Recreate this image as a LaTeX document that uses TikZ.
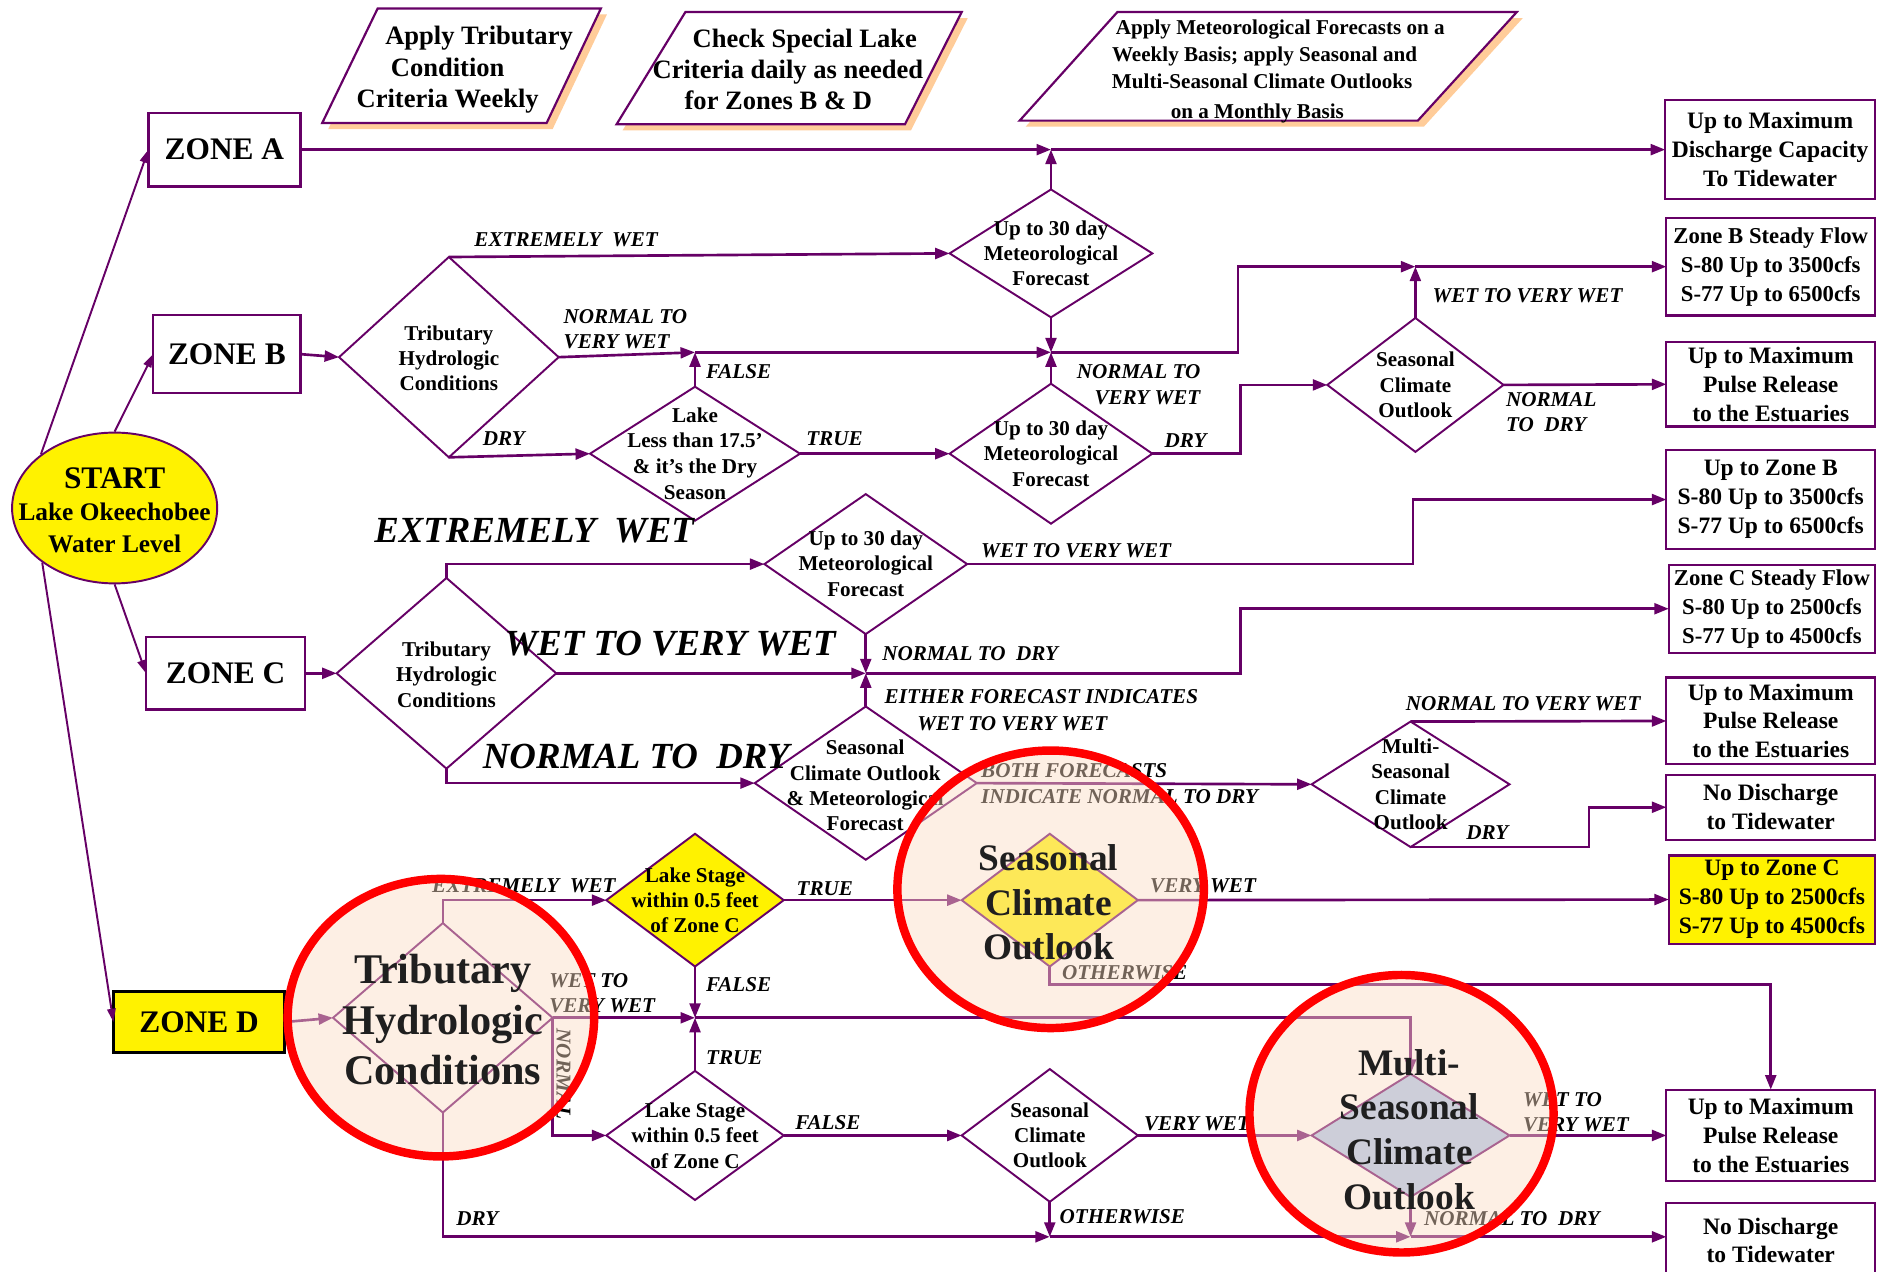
\documentclass[tikz,border=0pt]{standalone}
\usepackage{fontspec}
\setmainfont{Liberation Serif}
\usetikzlibrary{shapes.geometric,arrows.meta}
\definecolor{pur}{HTML}{660066}
\definecolor{shad}{HTML}{FFCC99}
\definecolor{peach}{HTML}{FCDCC4}
\definecolor{lblue}{HTML}{A8C4EC}
\begin{document}
\begin{tikzpicture}[x=1pt,y=-1pt,
 conn/.style={draw=pur, line width=2.2pt, -{Triangle[length=12pt,width=9pt]}},
 thinarr/.style={draw=pur, line width=1.6pt, -{Triangle[length=11pt,width=7pt]}},
 dia/.style={diamond, draw=pur, line width=1.6pt, inner sep=0pt, outer sep=0pt, fill=white},
 box/.style={rectangle, draw=pur, line width=1.8pt, fill=white, align=center, outer sep=0pt,
   font=\fontsize{19.5}{24}\selectfont\bfseries, inner sep=0pt},
 zone/.style={rectangle, draw=pur, line width=1.8pt, fill=white, outer sep=0pt,
   font=\fontsize{26}{30}\selectfont\bfseries},
 dtext/.style={align=center, font=\fontsize{17.5}{21}\selectfont\bfseries, inner sep=0pt},
 lab/.style={font=\fontsize{17.5}{21}\selectfont\bfseries\itshape, inner sep=0pt, anchor=base west},
 labr/.style={font=\fontsize{17.5}{21}\selectfont\bfseries\itshape, inner sep=0pt, anchor=base east},
 biglab/.style={font=\fontsize{30.5}{34}\selectfont\bfseries\itshape, inner sep=0pt, anchor=base west},
 ptext/.style={font=\fontsize{22}{26}\selectfont\bfseries, inner sep=0pt, anchor=base},
 ptext2/.style={font=\fontsize{17.5}{21}\selectfont\bfseries, inner sep=0pt, anchor=base},
 bigt/.style={align=center, inner sep=0pt, text=black!88, font=\fontsize{35}{42}\selectfont\bfseries},
 bigs/.style={align=center, inner sep=0pt, text=black!88, font=\fontsize{31}{37}\selectfont\bfseries},
 plg/.style={draw=pur, line width=1.8pt, fill=white},
 shd/.style={fill=shad, shift={(5,5)}}
]
\useasboundingbox (0,0) rectangle (1568,1054);
\clip (0,0) rectangle (1568,1054);
\fill[white] (0,0) rectangle (1568,1054);

% ---------- top parallelograms ----------
\fill[shd] (313,7) -- (498,7) -- (453,102) -- (267,102) -- cycle;
\draw[plg] (313,7) -- (498,7) -- (453,102) -- (267,102) -- cycle;
\node[ptext] (p1a) at (397,37) {Apply Tributary};
\node[ptext] (p1b) at (371,63) {Condition};
\node[ptext] (p1c) at (371,89) {Criteria Weekly};

\fill[shd] (568,10) -- (797,10) -- (750,103) -- (511,103) -- cycle;
\draw[plg] (568,10) -- (797,10) -- (750,103) -- (511,103) -- cycle;
\node[ptext] (p2a) at (667,39) {Check Special Lake};
\node[ptext] (p2b) at (653,65) {Criteria daily as needed};
\node[ptext] (p2c) at (645,91) {for Zones B \& D};

\fill[shd] (926,10) -- (1257,10) -- (1175,100) -- (845,100) -- cycle;
\draw[plg] (926,10) -- (1257,10) -- (1175,100) -- (845,100) -- cycle;
\node[ptext2] (p3a) at (1061,29) {Apply Meteorological Forecasts on a};
\node[ptext2] (p3b) at (1048,51) {Weekly Basis; apply Seasonal and};
\node[ptext2] (p3c) at (1046,73) {Multi-Seasonal Climate Outlooks};
\node[ptext2] (p3d) at (1042,98) {on a Monthly Basis};

% ---------- start and zones ----------
\node[ellipse, draw=pur, line width=1.6pt, fill=yellow, minimum width=170pt, minimum height=125pt, inner sep=0pt] (st) at (95,421) {};
\node[inner sep=0pt, anchor=base, font=\fontsize{26}{30}\selectfont\bfseries] (st1) at (95,405) {START};
\node[inner sep=0pt, anchor=base, font=\fontsize{21}{25}\selectfont\bfseries] (st2) at (95,431) {Lake Okeechobee};
\node[inner sep=0pt, anchor=base, font=\fontsize{21}{25}\selectfont\bfseries] (st3) at (95,458) {Water Level};

\node[zone, minimum width=126pt, minimum height=61pt] (za) at (186,124) {ZONE A};
\node[zone, minimum width=122pt, minimum height=65pt] (zb) at (188,293.5) {ZONE B};
\node[zone, minimum width=132pt, minimum height=60pt] (zc) at (187,558) {ZONE C};
\node[zone, draw=black, line width=2.6pt, fill=yellow, minimum width=142pt, minimum height=50pt] (zd) at (165,847) {ZONE D};

\draw[thinarr] (st.144) -- (za.west);
\draw[thinarr] (st.north) -- (zb.west);
\draw[thinarr] (st.south) -- (zc.west);
\draw[thinarr] (st.217) -- (zd.west);

% ---------- outputs ----------
\node[box, minimum width=174pt, minimum height=82pt] (o1) at (1467,124) {Up to Maximum\\Discharge Capacity\\To Tidewater};
\node[box, minimum width=173pt, minimum height=81pt, font=\fontsize{18.8}{24}\selectfont\bfseries] (o2) at (1467.5,221) {Zone B Steady Flow\\S-80 Up to 3500cfs\\S-77 Up to 6500cfs};
\node[box, minimum width=173pt, minimum height=70pt] (o3) at (1467.5,318.5) {Up to Maximum\\Pulse Release\\to the Estuaries};
\node[box, minimum width=173pt, minimum height=82pt] (o4) at (1467.5,414) {Up to Zone B\\S-80 Up to 3500cfs\\S-77 Up to 6500cfs};
\node[box, minimum width=171pt, minimum height=73pt, font=\fontsize{18.8}{24}\selectfont\bfseries] (o5) at (1468.5,504.5) {Zone C Steady Flow\\S-80 Up to 2500cfs\\S-77 Up to 4500cfs};
\node[box, minimum width=173pt, minimum height=72pt] (o6) at (1467.5,597.5) {Up to Maximum\\Pulse Release\\to the Estuaries};
\node[box, minimum width=173pt, minimum height=54pt] (o7) at (1467.5,669) {No Discharge\\to Tidewater};
\node[box, fill=yellow, minimum width=171pt, minimum height=73pt] (o8) at (1468.5,745.5) {Up to Zone C\\S-80 Up to 2500cfs\\S-77 Up to 4500cfs};
\node[box, minimum width=173pt, minimum height=76pt] (o9) at (1467.5,941) {Up to Maximum\\Pulse Release\\to the Estuaries};
\node[box, minimum width=173pt, minimum height=62pt] (o10) at (1467.5,1028) {No Discharge\\to Tidewater};

% ---------- diamonds ----------
\node[dia, minimum width=168pt, minimum height=106pt] (d1) at (871,210) {};
\node[dtext] (d1t) at (871,210) {Up to 30 day\\Meteorological\\Forecast};
\node[dia, minimum width=168pt, minimum height=116pt] (d2) at (871,376) {};
\node[dtext] (d2t) at (871,376) {Up to 30 day\\Meteorological\\Forecast};
\node[dia, minimum width=182pt, minimum height=166pt] (tb) at (372,296) {};
\node[dtext] (tbt) at (372,297) {Tributary\\Hydrologic\\Conditions};
\node[dia, minimum width=174pt, minimum height=111pt] (lb) at (576,376) {};
\node[dtext, font=\fontsize{17.5}{21.5}\selectfont\bfseries] (lbt) at (576,376) {Lake\\Less than 17.5’\\\& it’s the Dry\\Season};
\node[dia, minimum width=146pt, minimum height=111pt] (sb) at (1173,319) {};
\node[dtext] (sbt) at (1173,319) {Seasonal\\Climate\\Outlook};

\node[dia, minimum width=182pt, minimum height=158pt] (tc) at (370,558) {};
\node[dtext] (tct) at (370,559) {Tributary\\Hydrologic\\Conditions};
\node[dia, minimum width=168pt, minimum height=116pt] (mc) at (717.5,467.5) {};
\node[dtext] (mct) at (717.5,467) {Up to 30 day\\Meteorological\\Forecast};
\node[dia, minimum width=184pt, minimum height=127pt] (sc) at (717.5,649) {};
\node[dtext] (sct) at (717,651) {Seasonal\\Climate Outlook\\\& Meteorological\\Forecast};
\node[dia, minimum width=164pt, minimum height=104pt] (mlc) at (1169,650) {};
\node[dtext] (mlct) at (1169,650) {Multi-\\Seasonal\\Climate\\Outlook};

\node[dia, minimum width=182pt, minimum height=157pt] (td) at (367,843.5) {};
\node[dia, fill=yellow, minimum width=147pt, minimum height=110pt] (ld1) at (576,746) {};
\node[dtext] (ld1t) at (576,746) {Lake Stage\\within 0.5 feet\\of Zone C};
\node[dia, minimum width=147pt, minimum height=107pt] (ld2) at (576,941) {};
\node[dtext] (ld2t) at (576,941) {Lake Stage\\within 0.5 feet\\of Zone C};
\node[dia, fill=yellow, minimum width=146pt, minimum height=110pt] (sd1) at (870,746) {};
\node[dia, minimum width=146pt, minimum height=110pt] (sd2) at (870,941) {};
\node[dtext] (sd2t) at (870,941) {Seasonal\\Climate\\Outlook};
\node[dia, fill=lblue, minimum width=164pt, minimum height=102pt] (md) at (1169,941) {};

% ---------- zone A connectors ----------
\coordinate (ja) at (871,124);
\draw[conn] (za.east) -- (ja);
\draw[conn] (d1.north) -- (ja);
\draw[conn] (ja) -- (o1.west);

% ---------- zone B connectors ----------
\draw[conn] (zb.east) -- (tb.west);
\draw[conn] (tb.north) -- (d1.west);
\coordinate (jb1) at (576,292);
\coordinate (jb2) at (871,292);
\coordinate (jb3) at (1173,221);
\draw[conn] (tb.east) -- (jb1);
\draw[conn] (lb.north) -- (jb1);
\draw[conn] (jb1) -- (jb2);
\draw[conn] (d1.south) -- (jb2);
\draw[conn] (d2.north) -- (jb2);
\draw[conn] (jb2) -- ++(155,0) |- (jb3);
\draw[conn] (sb.north) -- (jb3);
\draw[conn] (jb3) -- (o2.west);
\draw[conn] (tb.south) -- (lb.west);
\draw[conn] (lb.east) -- (d2.west);
\draw[conn] (d2.east) -- ++(73,0) |- (sb.west);
\draw[conn] (sb.east) -- (o3.west);

% ---------- zone C connectors ----------
\draw[conn] (zc.east) -- (tc.west);
\draw[conn] (tc.north) |- (mc.west);
\coordinate (jc) at (717.5,558);
\draw[conn] (tc.east) -- (jc);
\draw[conn] (mc.south) -- (jc);
\draw[conn] (sc.north) -- (jc);
\draw[conn] (mc.east) -- ++(369.5,0) |- (o4.west);
\draw[conn] (jc) -- ++(310.5,0) |- (o5.west);
\draw[conn] (tc.south) |- (sc.west);
\draw[conn] (sc.east) -- (mlc.west);
\draw[conn] (mlc.north) -- (o6.west);
\draw[conn] (mlc.south) -- ++(148,0) |- (o7.west);

% ---------- zone D connectors ----------
\draw[conn] (zd.east) -- (td.west);
\draw[conn] (td.north) |- (ld1.west);
\draw[conn] (ld1.east) -- (sd1.west);
\coordinate (jd) at (576,843.5);
\draw[conn] (ld1.south) -- (jd);
\draw[conn] (td.east) -- (jd);
\draw[conn] (ld2.north) -- (jd);
\draw[conn] (jd) -| (md.north);
\draw[conn] (td.east) |- (ld2.west);
\draw[conn] (ld2.east) -- (sd2.west);
\draw[conn] (sd1.east) -- (o8.west);
\draw[conn] (sd1.south) -- ++(0,15) -| (o9.north);
\draw[conn] (sd2.east) -- (md.west);
\coordinate (jd2) at (870,1025);
\coordinate (jd3) at (1169,1025);
\draw[conn] (sd2.south) -- (jd2);
\draw[conn] (td.south) |- (jd2);
\draw[conn] (md.south) -- (jd3);
\draw[conn] (jd2) -- (jd3);
\draw[conn] (jd3) -- (jd3 -| o10.west);
\draw[conn] (md.east) -- (o9.west);

% ---------- labels ----------
\node[lab] (l1) at (393,204) {EXTREMELY~~WET};
\node[lab] (l2) at (467,268) {NORMAL TO};
\node[lab] (l3) at (467,289) {VERY WET};
\node[lab] (l4) at (585,314) {FALSE};
\node[lab] (l5) at (400,369) {DRY};
\node[lab] (l6) at (668,369) {TRUE};
\node[labr] (l7) at (995,314) {NORMAL TO};
\node[labr] (l8) at (995,335) {VERY WET};
\node[lab] (l9) at (965,371) {DRY};
\node[lab] (l10) at (1187,251) {WET TO VERY WET};
\node[lab] (l11) at (1248,337) {NORMAL};
\node[lab] (l12) at (1248,358) {TO~~DRY};
\node[biglab] (l13) at (310,450) {EXTREMELY~~WET};
\node[lab] (l14) at (813,462) {WET TO VERY WET};
\node[biglab] (l15) at (418,543) {WET TO VERY WET};
\node[lab] (l16) at (731,547) {NORMAL TO~~DRY};
\node[lab] (l17) at (733,583) {EITHER FORECAST INDICATES};
\node[lab] (l18) at (760,605) {WET TO VERY WET};
\node[lab] (l19) at (1165,589) {NORMAL TO VERY WET};
\node[biglab] (l20) at (400,637) {NORMAL TO~~DRY};
\node[lab] (l21) at (813,644) {BOTH FORECASTS};
\node[lab] (l22) at (813,666) {INDICATE NORMAL TO DRY};
\node[lab] (l23) at (1215,696) {DRY};
\node[lab] (l24) at (358,740) {EXTREMELY~~WET};
\node[lab] (l25) at (660,742) {TRUE};
\node[lab] (l26) at (953,740) {VERY WET};
\node[lab] (l27) at (585,822) {FALSE};
\node[lab] (l28) at (455,818) {WET TO};
\node[lab] (l29) at (455,839) {VERY WET};
\node[lab] (l30) at (880,812) {OTHERWISE};
\node[font=\fontsize{17.5}{21}\selectfont\bfseries\itshape, inner sep=0pt, rotate=-90] (l31) at (467,890) {NORMAL};
\node[lab] (l32) at (585,882) {TRUE};
\node[lab] (l33) at (659,936) {FALSE};
\node[lab] (l34) at (948,937) {VERY WET};
\node[lab] (l35) at (1262,917) {WET TO};
\node[lab] (l36) at (1262,938) {VERY WET};
\node[lab] (l37) at (378,1016) {DRY};
\node[lab] (l38) at (878,1014) {OTHERWISE};
\node[lab] (l39) at (1180,1016) {NORMAL TO~~DRY};

% ---------- highlight circles ----------
\fill[peach, fill opacity=0.45] (365.4,843.4) ellipse (127 and 115);
\fill[peach, fill opacity=0.45] (870.7,737) ellipse (127 and 115);
\fill[peach, fill opacity=0.45] (1161.5,923) ellipse (126 and 115);
\node[bigt] (bt1) at (367,845) {Tributary\\Hydrologic\\Conditions};
\node[bigs] (bt2) at (869,748) {Seasonal\\Climate\\Outlook};
\node[bigs] (bt3) at (1168,936) {Multi-\\Seasonal\\Climate\\Outlook};
\draw[red, line width=7pt] (365.4,843.4) ellipse (127 and 115);
\draw[red, line width=7pt] (870.7,737) ellipse (127 and 115);
\draw[red, line width=7pt] (1161.5,923) ellipse (126 and 115);
\end{tikzpicture}
\end{document}
